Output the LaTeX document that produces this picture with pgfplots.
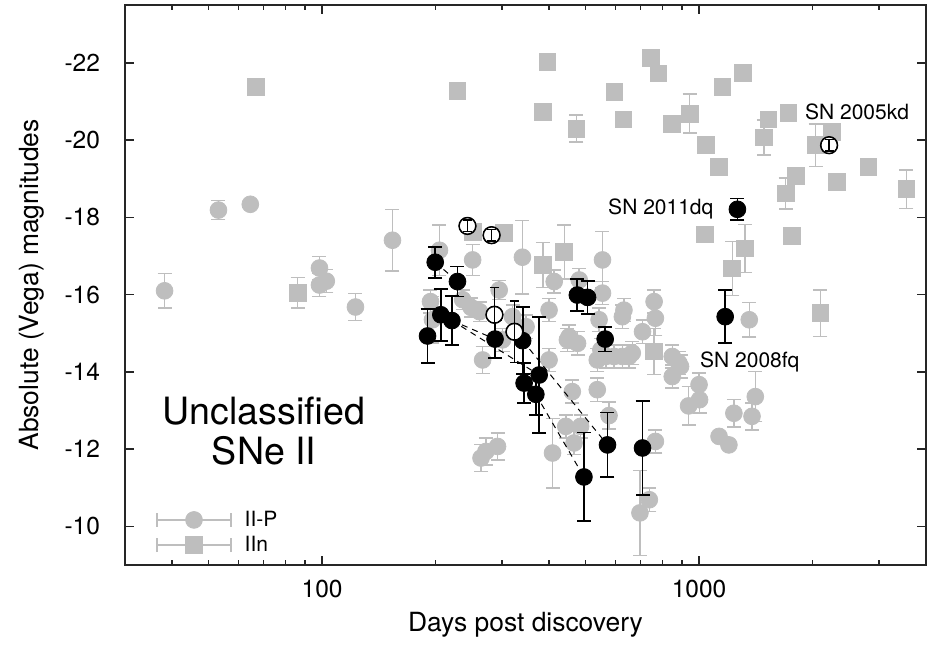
\documentclass[border=0pt]{standalone}
\usepackage{fontspec}
\setmainfont{TeX Gyre Heros}
\usepackage{pgfplots}
\usepackage{pgfplotstable}
\pgfplotsset{compat=1.18}
\definecolor{gnugray}{RGB}{190,190,190}
\pgfplotsset{errlegend/.style={legend image code/.code={
    \draw[gnugray, line width=0.75pt] (0pt,0pt) -- (37pt,0pt);
    \draw[gnugray, line width=0.75pt] (0pt,-3.5pt) -- (0pt,3.5pt);
    \draw[gnugray, line width=0.75pt] (37pt,-3.5pt) -- (37pt,3.5pt);
    \draw[##1] plot coordinates {(18.5pt,0pt)};
  }}}

\pgfplotstableread{
x y e
38.2 -16.10 0.45
53.1 -18.19 0.25
64.5 -18.34 0.10
98.4 -16.69 0.30
102.6 -16.35 0.30
98.4 -16.25 0.30
122.6 -15.68 0.35
153.7 -17.41 0.80
193.9 -15.82 0.30
196.3 -15.35 0.60
204.8 -17.15 0.65
236 -15.87 0.25
248.5 -15.67 0.25
250.8 -16.90 0.40
261.6 -15.56 0.25
264 -11.77 0.35
272 -11.94 0.35
292 -12.07 0.35
266.6 -14.31 0.35
295 -16.12 0.25
301 -14.83 0.30
320 -15.43 0.30
340 -16.97 0.95
347.6 -15.17 0.30
400 -15.60 0.30
400 -14.31 0.30
408.6 -11.90 0.90
412.8 -16.34 0.30
443 -12.59 0.30
447.5 -14.83 0.30
452 -14.91 0.30
461 -13.49 0.30
466 -12.16 0.30
476 -14.74 0.30
481 -16.38 0.30
485 -12.59 0.30
537 -13.54 0.30
537 -14.31 0.30
543 -15.35 0.30
549 -14.57 0.30
554.4 -16.90 0.73
554.4 -16.04 0.30
566 -14.40 0.30
577 -12.87 0.35
595 -14.40 0.30
626 -15.43 0.30
632 -15.60 0.30
626 -14.40 0.30
652 -14.40 0.30
665 -14.49 0.30
697 -10.35 1.10
708 -15.04 0.30
738 -10.69 0.30
760 -15.82 0.30
766 -15.39 0.45
766 -12.20 0.30
849 -14.40 0.30
849 -13.88 0.30
884 -14.23 0.30
893 -14.14 0.30
938 -13.12 0.50
1000 -13.67 0.30
1003 -13.28 0.35
1130 -12.33 0.10
1200 -12.11 0.10
1237 -12.93 0.35
1359 -15.35 0.45
1382 -12.85 0.35
1410 -13.36 0.65
}\IIP

\pgfplotstableread{
x y e
66.9 -21.38 0
86.1 -16.05 0.40
228.6 -21.28 0
250.7 -17.63 0.20
304 -17.59 0.20
385 -16.77 0.58
396 -22.03 0
385 -20.73 0
439 -17.11 0.70
473 -20.30 0.35
596 -21.25 0
630 -20.54 0
745 -22.14 0
760 -14.53 0.60
780 -21.73 0
849 -20.43 0
944 -20.69 0.50
1038 -17.56 0
1045 -19.87 0
1130 -19.31 0
1153 -21.38 0
1225 -16.68 0.70
1309 -21.74 0
1324 -17.20 0.62
1486 -20.07 0.45
1527 -20.54 0
1698 -18.62 0.40
1726 -20.71 0
1767 -17.52 0
1803 -19.07 0
2038 -19.87 0.55
2099 -15.52 0.60
2255 -20.22 0
2326 -18.92 0
2813 -19.31 0
3548 -18.73 0.50
}\IIn

\pgfplotstableread{
x y e
190.4 -14.93 0.69
199.6 -16.84 0.40
206.5 -15.48 0.67
221 -15.33 0.63
228.6 -16.34 0.39
287.6 -14.85 0.50
340.4 -14.81 0.87
343.5 -13.71 0.52
369 -13.42 0.54
376.6 -13.92 1.50
475.5 -15.99 0.41
506 -15.93 0.43
495 -11.28 1.15
563.6 -14.85 0.32
571.6 -12.11 0.84
708 -12.03 1.21
1173 -15.43 0.69
1264 -18.21 0.28
}\Unc

\pgfplotstableread{
x y e
243 -17.78 0.15
281.6 -17.54 0.15
286.6 -15.48 0.70
323.8 -15.04 0.80
2213 -19.87 0.15
}\UncOpen

\begin{document}
\begin{tikzpicture}
\begin{axis}[
  scale only axis,
  width=400.5pt, height=280pt,
  xmode=log,
  xmin=30, xmax=4000,
  ymin=-23.5, ymax=-9,
  y dir=reverse,
  axis line style={black!85, line width=0.9pt},
  xtick={100,1000}, xticklabels={100,1000},
  minor xtick={40,50,60,70,80,90,200,300,400,500,600,700,800,900,2000,3000},
  ytick={-22,-20,-18,-16,-14,-12,-10},
  yticklabels={-22,-20,-18,-16,-14,-12,-10},
  minor ytick={},
  tick align=inside,
  major tick length=4.5pt, minor tick length=2.5pt,
  tick style={black!85, line width=0.7pt},
  ticklabel style={font=\fontsize{12.25}{14}\selectfont},
  xticklabel style={yshift=-4pt},
  yticklabel style={xshift=-9pt},
  xlabel={Days post discovery},
  ylabel={Absolute (Vega) magnitudes},
  label style={font=\fontsize{13.2}{15}\selectfont},
  xlabel style={at={(axis description cs:0.5,-0.107)}, anchor=center},
  ylabel style={at={(axis description cs:-0.116,0.5)}, anchor=center},
  legend style={at={(axis description cs:0.031,0.004)}, anchor=south west,
    draw=none, fill=none, font=\fontsize{10.5}{12}\selectfont,
    legend cell align=left, row sep=-0.5pt, column sep=4.5pt,
    nodes={inner sep=2pt}},
  clip=true,
  clip marker paths=true,
]
% IIn squares
\addplot[forget plot, only marks, mark=square*, mark size=4.2pt,
  mark options={draw=gnugray, fill=gnugray},
  error bars/.cd, y dir=both, y explicit,
  error bar style={gnugray, line width=0.75pt},
  error mark options={rotate=90, gnugray, line width=0.75pt, mark size=3.5pt}]
  table[x=x, y=y, y error=e] {\IIn};
% II-P circles
\addplot[forget plot, only marks, mark=*, mark size=4.2pt,
  mark options={draw=gnugray, fill=gnugray},
  error bars/.cd, y dir=both, y explicit,
  error bar style={gnugray, line width=0.75pt},
  error mark options={rotate=90, gnugray, line width=0.75pt, mark size=3.5pt}]
  table[x=x, y=y, y error=e] {\IIP};
% dashed light curves
\addplot[forget plot, black, line width=0.5pt, dash pattern=on 3pt off 2.5pt, no marks]
  coordinates {(199.6,-16.84) (228.6,-16.34)};
\addplot[forget plot, black, line width=0.5pt, dash pattern=on 3pt off 2.5pt, no marks]
  coordinates {(221,-15.33) (287.6,-14.85)};
\addplot[forget plot, black, line width=0.5pt, dash pattern=on 3pt off 2.5pt, no marks]
  coordinates {(340.4,-14.81) (571.6,-12.11)};
\addplot[forget plot, black, line width=0.5pt, dash pattern=on 3pt off 2.5pt, no marks]
  coordinates {(221,-15.33) (376.6,-13.92)};
\addplot[forget plot, black, line width=0.5pt, dash pattern=on 3pt off 2.5pt, no marks]
  coordinates {(369,-13.42) (495,-11.28)};
% unclassified, filled
\addplot[forget plot, only marks, mark=*, mark size=4.2pt,
  mark options={draw=black, fill=black},
  error bars/.cd, y dir=both, y explicit,
  error bar style={black, line width=0.9pt},
  error mark options={rotate=90, black, line width=0.9pt, mark size=3.5pt}]
  table[x=x, y=y, y error=e] {\Unc};
% unclassified, open: white disks, then outlines with error bars
\addplot[forget plot, only marks, mark=*, mark size=4.2pt,
  mark options={draw=none, fill=white}]
  table[x=x, y=y] {\UncOpen};
\addplot[forget plot, only marks, mark=o, mark size=4.2pt,
  mark options={draw=black, line width=0.75pt},
  error bars/.cd, y dir=both, y explicit,
  error bar style={black, line width=0.7pt},
  error mark options={rotate=90, black, line width=0.7pt, mark size=2.3pt}]
  table[x=x, y=y, y error=e] {\UncOpen};

% legend entries
\addlegendimage{only marks, mark=*, mark size=4.2pt, mark options={draw=gnugray, fill=gnugray}, errlegend}
\addlegendentry{II-P}
\addlegendimage{only marks, mark=square*, mark size=4.2pt, mark options={draw=gnugray, fill=gnugray}, errlegend}
\addlegendentry{IIn}

\node[font=\fontsize{10.5}{12}\selectfont] at (axis cs:2625,-20.73) {SN 2005kd};
\node[font=\fontsize{10.5}{12}\selectfont] at (axis cs:791.6,-18.22) {SN 2011dq};
\node[font=\fontsize{10.5}{12}\selectfont] at (axis cs:1363,-14.27) {SN 2008fq};
\node[font=\fontsize{18.8}{20}\selectfont, align=center] at (axis cs:70.2,-12.46) {Unclassified\\SNe II};

\coordinate (bl) at (axis description cs:0,0);
\coordinate (tr) at (axis description cs:1,1);
\end{axis}
\pgfresetboundingbox
\path[use as bounding box] ([shift={(-62.5pt,-42.5pt)}]bl) rectangle ([shift={(6pt,2.5pt)}]tr);
\end{tikzpicture}
\end{document}
